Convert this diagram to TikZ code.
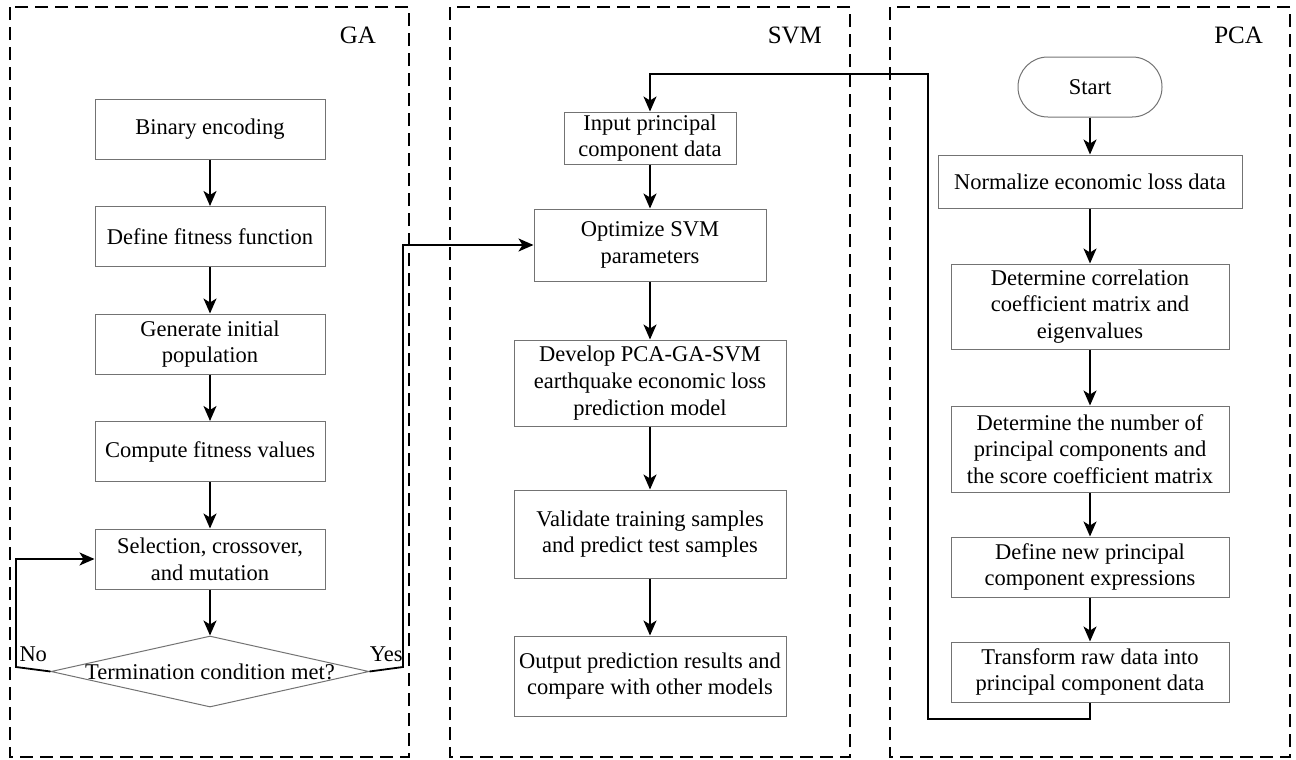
\documentclass[tikz,border=0pt]{standalone}
\usepackage{fontspec}
\setmainfont{Liberation Serif}
\usepackage{tikz}
\usetikzlibrary{positioning,shapes.geometric,arrows.meta}

\begin{document}
\begin{tikzpicture}[x=0.5pt, y=-0.5pt,
  block/.style={rectangle, draw=black!55, line width=0.5pt, align=center, inner sep=0pt,
    font=\fontsize{11.25pt}{13.3pt}\selectfont},
  gabox/.style={block, minimum width=115pt, minimum height=30pt},
  pcabox/.style={block, minimum width=139pt},
  decision/.style={diamond, draw=black!55, line width=0.5pt, inner sep=0pt,
    minimum width=159pt, minimum height=35.5pt},
  startbox/.style={block, rounded corners=14.9pt, minimum width=72pt, minimum height=30pt},
  panel/.style={dash pattern=on 6.5pt off 3.5pt, line width=1.2pt},
  tag/.style={anchor=east, font=\fontsize{12.5pt}{14pt}\selectfont},
  flow/.style={->, line width=0.9pt},
  >={Stealth[length=7.5pt, width=6.5pt, inset=2pt]}]
  \useasboundingbox (0,0) rectangle (1296,760);

  % panels
  \draw[panel] (10,7) rectangle (409,757);
  \draw[panel] (450,7) rectangle (850,757);
  \draw[panel] (890,7) rectangle (1290,757);
  \node[tag] (galab) at (383,35) {GA};
  \node[tag] (svmlab) at (829,35) {SVM};
  \node[tag] (pcalab) at (1270,35) {PCA};

  % GA
  \node[gabox] (bin) at (210,129) {Binary encoding};
  \node[gabox, below=23.25pt of bin] (fitf) {Define fitness function};
  \node[gabox, below=23.25pt of fitf] (init) {Generate initial\\population};
  \node[gabox, below=23.25pt of init] (comp) {Compute fitness values};
  \node[gabox, below=23.25pt of comp] (sel) {Selection, crossover,\\and mutation};
  \node[decision, below=23pt of sel] (cond) {};
  \node[block, draw=none] (condtxt) at (cond) {Termination condition met?};
  \coordinate (noc) at (16,667);
  \coordinate (yesc) at (403,667);

  % SVM
  \node[block, minimum width=86pt, minimum height=26pt] (inp) at (650,138) {Input principal\\component data};
  \node[block, below=22pt of inp, minimum width=116pt, minimum height=36pt] (opt) {Optimize SVM\\parameters};
  \node[block, below=29pt of opt, minimum width=136pt, minimum height=43pt] (dev) {Develop PCA-GA-SVM\\earthquake economic loss\\prediction model};
  \node[block, below=31.5pt of dev, minimum width=136pt, minimum height=44pt] (val) {Validate training samples\\and predict test samples};
  \node[block, below=28.5pt of val, minimum width=136pt, minimum height=40pt] (outp) {Output prediction results and\\compare with other models};

  % PCA
  \node[startbox] (start) at (1090,87) {Start};
  \node[block, below=18.5pt of start, minimum width=152pt, minimum height=26.5pt] (norm) {Normalize economic loss data};
  \node[pcabox, below=27.5pt of norm, minimum height=42.5pt] (corr) {Determine correlation\\coefficient matrix and\\eigenvalues};
  \node[pcabox, below=28pt of corr, minimum height=43pt] (num) {Determine the number of\\principal components and\\the score coefficient matrix};
  \node[pcabox, below=22pt of num, minimum height=30pt] (newpc) {Define new principal\\component expressions};
  \node[pcabox, below=22pt of newpc, minimum height=30pt] (trans) {Transform raw data into\\principal component data};
  \coordinate (fbbot) at (928,719);
  \coordinate (fbtop) at (928,74);

  \draw[flow] (bin) -- (fitf);
  \draw[flow] (fitf) -- (init);
  \draw[flow] (init) -- (comp);
  \draw[flow] (comp) -- (sel);
  \draw[flow] (sel) -- (cond);
  \draw[flow] (cond.west) -- node[above, font=\fontsize{11.25pt}{13pt}\selectfont] (nolab) {No} (noc) |- (sel.west);
  \draw[flow] (cond.east) -- node[above, font=\fontsize{11.25pt}{13pt}\selectfont] (yeslab) {Yes} (yesc) |- (opt.west);

  \draw[flow] (inp) -- (opt);
  \draw[flow] (opt) -- (dev);
  \draw[flow] (dev) -- (val);
  \draw[flow] (val) -- (outp);

  \draw[flow] (start) -- (norm);
  \draw[flow] (norm) -- (corr);
  \draw[flow] (corr) -- (num);
  \draw[flow] (num) -- (newpc);
  \draw[flow] (newpc) -- (trans);
  \draw[flow] (trans.south) |- (fbbot) -- (fbtop) -| (inp.north);
\end{tikzpicture}
\end{document}
